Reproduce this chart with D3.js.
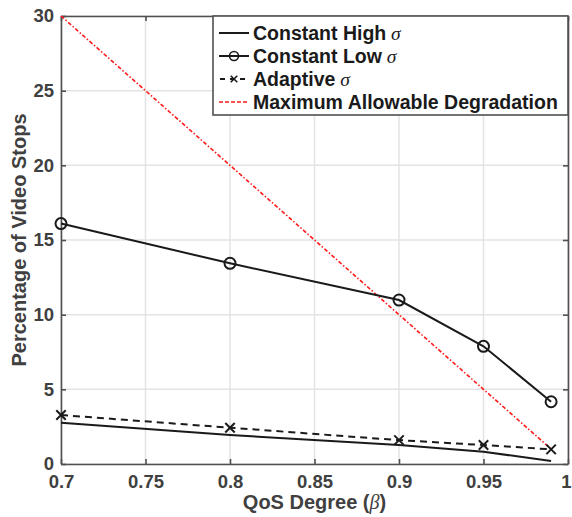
<!DOCTYPE html>
<html>
<head>
<meta charset="utf-8">
<script src="https://cdn.jsdelivr.net/npm/d3@7"></script>
<style>
  html, body { margin: 0; padding: 0; background: #fff; }
  svg { display: block; }
</style>
</head>
<body>
<script>
// QoS degree values (x) and the percentage of video stops for each policy
const beta = [0.7, 0.8, 0.9, 0.95, 0.99];
const constantHigh = [2.77, 1.94, 1.27, 0.82, 0.2];
const constantLow = [16.1, 13.44, 10.98, 7.88, 4.17];
const adaptive = [3.28, 2.43, 1.6, 1.27, 0.98];
const maxDegradation = [30, 20, 10, 5, 1];

const xTicks = [0.7, 0.75, 0.8, 0.85, 0.9, 0.95, 1];
const xTickLabels = ["0.7", "0.75", "0.8", "0.85", "0.9", "0.95", "1"];
const yTicks = [0, 5, 10, 15, 20, 25, 30];

const legendItems = ["Constant High", "Constant Low", "Adaptive", "Maximum Allowable Degradation"];

const W = 572, H = 517;
const m = { left: 61, right: 4, top: 16, bottom: 53 };
const font = "'Liberation Sans', Arial, Helvetica, sans-serif";
const serif = "'Liberation Serif', 'Times New Roman', serif";
const axisColor = "#505050";
const textColor = "#404040";

const svg = d3.select("body").append("svg")
  .attr("width", W).attr("height", H);

const x = d3.scaleLinear().domain([0.7, 1]).range([m.left, W - m.right]);
const y = d3.scaleLinear().domain([0, 30]).range([H - m.bottom, m.top]);

// grid
const grid = svg.append("g");
grid.selectAll("line.gx").data(xTicks).join("line")
  .attr("x1", d => x(d)).attr("x2", d => x(d))
  .attr("y1", y(0)).attr("y2", y(30))
  .attr("stroke", "#e3e3e3").attr("stroke-width", 1.5);
grid.selectAll("line.gy").data(yTicks).join("line")
  .attr("y1", d => y(d)).attr("y2", d => y(d))
  .attr("x1", x(0.7)).attr("x2", x(1))
  .attr("stroke", "#e3e3e3").attr("stroke-width", 1.5);

// axes with inward ticks on all four sides
function styleAxis(g) {
  g.select(".domain").attr("stroke", axisColor).attr("stroke-width", 1.6);
  g.selectAll(".tick line").attr("stroke", axisColor).attr("stroke-width", 1.6);
  g.selectAll("text").attr("fill", textColor)
    .style("font-family", font).style("font-size", "18.5px").style("font-weight", "bold");
}
const xAxisG = svg.append("g").attr("transform", `translate(0,${y(0)})`)
  .call(d3.axisBottom(x).tickValues(xTicks).tickFormat((d, i) => xTickLabels[i])
    .tickSizeInner(-5).tickSizeOuter(0).tickPadding(11))
  .call(styleAxis);
// keep the right-most label inside the page
xAxisG.selectAll(".tick text").filter(d => d === 1).attr("dx", -2);

svg.append("g").attr("transform", `translate(${x(0.7)},0)`)
  .call(d3.axisLeft(y).tickValues(yTicks).tickSizeInner(-5).tickSizeOuter(0).tickPadding(7))
  .call(styleAxis);
svg.append("g").attr("transform", `translate(0,${y(30)})`)
  .call(d3.axisTop(x).tickValues(xTicks).tickFormat("").tickSizeInner(-5).tickSizeOuter(0))
  .call(styleAxis);
svg.append("g").attr("transform", `translate(${x(1)},0)`)
  .call(d3.axisRight(y).tickValues(yTicks).tickFormat("").tickSizeInner(-5).tickSizeOuter(0))
  .call(styleAxis);

// series
const line = d3.line().x(d => x(d[0])).y(d => y(d[1]));
const pts = vals => beta.map((b, i) => [b, vals[i]]);
const plot = svg.append("g");

plot.append("path").datum(pts(maxDegradation)).attr("d", line)
  .attr("fill", "none").attr("stroke", "#ff1a1a").attr("stroke-width", 1.6)
  .attr("stroke-dasharray", "4,2,1.5,2");

plot.append("path").datum(pts(constantHigh)).attr("d", line)
  .attr("fill", "none").attr("stroke", "#1a1a1a").attr("stroke-width", 2);

plot.append("path").datum(pts(constantLow)).attr("d", line)
  .attr("fill", "none").attr("stroke", "#1a1a1a").attr("stroke-width", 2);
plot.selectAll("circle.low").data(pts(constantLow)).join("circle")
  .attr("cx", d => x(d[0])).attr("cy", d => y(d[1])).attr("r", 5.5)
  .attr("fill", "none").attr("stroke", "#1a1a1a").attr("stroke-width", 2);

plot.append("path").datum(pts(adaptive)).attr("d", line)
  .attr("fill", "none").attr("stroke", "#1a1a1a").attr("stroke-width", 2)
  .attr("stroke-dasharray", "7,5");
const cross = d3.symbol().type(d3.symbolX).size(60);
plot.selectAll("path.ad").data(pts(adaptive)).join("path")
  .attr("d", cross)
  .attr("transform", d => `translate(${x(d[0])},${y(d[1])})`)
  .attr("fill", "none").attr("stroke", "#1a1a1a").attr("stroke-width", 2);

// axis titles
const xl = svg.append("text")
  .attr("x", (x(0.7) + x(1)) / 2).attr("y", 509)
  .attr("text-anchor", "middle").attr("fill", textColor)
  .style("font-family", font).style("font-size", "20px").style("font-weight", "bold");
xl.append("tspan").text("QoS Degree (");
xl.append("tspan").text("β").style("font-family", serif).style("font-style", "italic").style("font-weight", "normal");
xl.append("tspan").text(")");

svg.append("text")
  .attr("transform", `translate(26,${(y(0) + y(30)) / 2}) rotate(-90)`)
  .attr("text-anchor", "middle").attr("fill", textColor)
  .style("font-family", font).style("font-size", "20px").style("font-weight", "bold")
  .text("Percentage of Video Stops");

// legend
const lg = svg.append("g");
const lgX0 = 213, lgY0 = 16, lgW = x(1) - lgX0, lgH = 99;
lg.append("rect").attr("x", lgX0).attr("y", lgY0).attr("width", lgW).attr("height", lgH)
  .attr("fill", "#fff").attr("stroke", axisColor).attr("stroke-width", 1.6);
const rowY = i => 33 + i * 23;
const sx0 = 219, sx1 = 249;
legendItems.forEach((name, i) => {
  const cy = rowY(i);
  const ln = lg.append("line").attr("x1", sx0).attr("x2", sx1).attr("y1", cy).attr("y2", cy)
    .attr("stroke-width", i === 3 ? 1.6 : 2)
    .attr("stroke", i === 3 ? "#ff1a1a" : "#1a1a1a");
  if (i === 2) ln.attr("stroke-dasharray", "5,5").attr("stroke-dashoffset", -1);
  if (i === 3) ln.attr("stroke-dasharray", "4,2");
  if (i === 1) lg.append("circle").attr("cx", (sx0 + sx1) / 2).attr("cy", cy).attr("r", 4.5)
    .attr("fill", "none").attr("stroke", "#1a1a1a").attr("stroke-width", 1.6);
  if (i === 2) lg.append("path").attr("d", d3.symbol().type(d3.symbolX).size(30))
    .attr("transform", `translate(${(sx0 + sx1) / 2},${cy})`)
    .attr("fill", "none").attr("stroke", "#1a1a1a").attr("stroke-width", 1.6);
  const t = lg.append("text").attr("x", 253).attr("y", cy + 7)
    .attr("fill", "#1a1a1a")
    .style("font-family", font).style("font-size", "19.5px").style("font-weight", "bold");
  t.append("tspan").text(name);
  if (i < 3) t.append("tspan").text(" σ").style("font-family", serif)
    .style("font-style", "italic").style("font-weight", "normal");
});
</script>
</body>
</html>
